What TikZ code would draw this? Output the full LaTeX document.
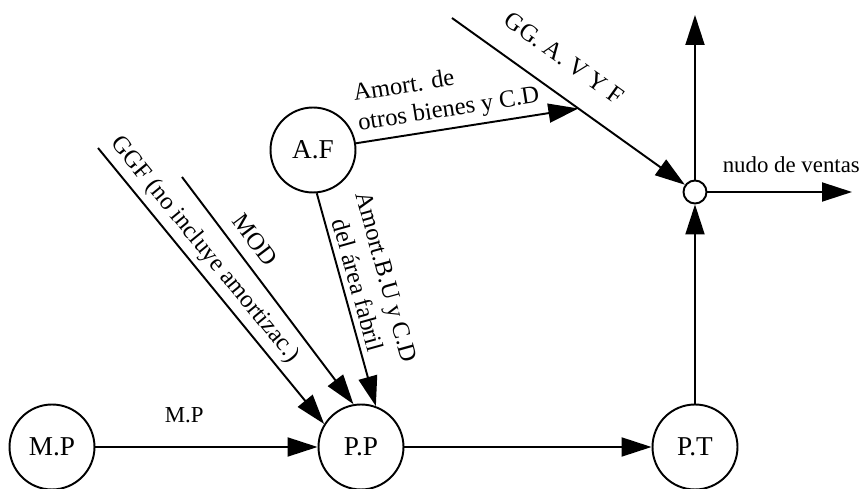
\documentclass[tikz,border=0pt]{standalone}
\usepackage{fontspec}
\setmainfont{Liberation Serif}
\usetikzlibrary{arrows.meta, calc, positioning}

\begin{document}
\begin{tikzpicture}[x=0.02cm, y=-0.02cm,
    estado/.style={circle,draw,line width=1.1pt,minimum size=1.7cm,inner sep=0pt,font=\fontsize{15.5}{18}\selectfont},
    flujo/.style={-{Triangle[length=0.6cm,width=0.38cm]},line width=1.1pt},
    etiq/.style={font=\fontsize{14}{17}\selectfont,sloped,above=2pt},
    plana/.style={font=\fontsize{13}{15}\selectfont}]
    \useasboundingbox (0,0) rectangle (867,489);

    % Estados
    \node[estado] (MP) at (52,447) {M.P};
    \node[estado] (PP) at (361,447) {P.P};
    \node[estado] (PT) at (695,447) {P.T};
    \node[estado] (AF) at (313,150) {A.F};
    \node[circle,draw,line width=1.1pt,minimum size=0.46cm,inner sep=0pt] (nv) at (695,192) {};

    % Extremos libres
    \coordinate (ggf) at (98,148);
    \coordinate (mod) at (182,177);
    \coordinate (gg) at (452,18);
    \coordinate (arriba) at (695,15);
    \coordinate (ventas) at (852,192);
    \coordinate (cruce) at ($(gg)!0.52!(nv)$);

    % Flujo principal
    \draw[flujo] (MP) -- node[plana,pos=0.4,above=10pt] {M.P} (PP);
    \draw[flujo] (PP) -- (PT);
    \draw[flujo] (PT) -- (nv);

    % Entradas a P.P
    \draw[flujo] (ggf) -- node[etiq,pos=0.41,above=0pt] {GGF (no incluye amortizac.)} (PP.148);
    \draw[flujo] (mod) -- node[etiq,pos=0.33,above=3pt] {MOD} (PP.100);
    \draw[flujo] (AF.-85) -- node[etiq,pos=0.45,align=center,above=0pt] {Amort.B.U y C.D\\del área fabril} (PP.70);

    % Nudo de ventas
    \draw[flujo] (gg) -- node[etiq,pos=0.4,above=10pt] {GG. A. V Y F} (nv);
    \draw[flujo] (AF) -- node[etiq,pos=0.43,align=left,above=0pt] {Amort. de\\otros bienes y C.D} (cruce);
    \draw[flujo] (nv) -- (arriba);
    \draw[flujo] (nv) -- node[plana,pos=0.58,above=7pt] {nudo de ventas} (ventas);
\end{tikzpicture}
\end{document}
